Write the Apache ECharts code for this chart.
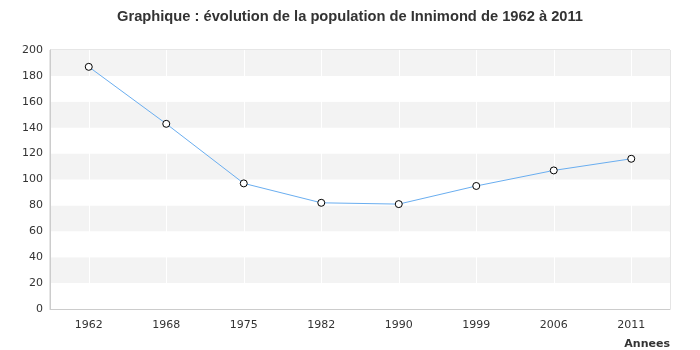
<!DOCTYPE html>
<html><head><meta charset="utf-8">
<script src="https://cdn.jsdelivr.net/npm/echarts@6/dist/echarts.min.js"></script>
<style>html,body{margin:0;padding:0;background:#fff}#c{width:700px;height:350px}</style>
</head><body><div id="c"></div>
<script>
const years = ['1962','1968','1975','1982','1990','1999','2006','2011'];
const population = [187,143,97,82,81,95,107,116];
const yTicks = {min:0, max:200, interval:20};
const chart = echarts.init(document.getElementById('c'));
chart.setOption({
  animation:false,
  title:{text:'Graphique : évolution de la population de Innimond de 1962 à 2011',left:'center',top:4,
    textStyle:{fontFamily:'Liberation Sans',fontSize:14.7,fontWeight:'bold',color:'#333'}},
  grid:{left:50,right:30,top:50,bottom:40,show:true,borderColor:'#ccc',borderWidth:1,backgroundColor:'transparent'},
  xAxis:{type:'category',data:years,boundaryGap:true,name:'Annees',nameLocation:'end',
    nameGap:0,
    nameTextStyle:{fontFamily:'DejaVu Sans',fontSize:11,fontWeight:'bold',color:'#333',align:'right',verticalAlign:'top',padding:[30,0,0,0]},
    axisLine:{show:true,lineStyle:{color:'#ccc'}},axisTick:{show:false},
    axisLabel:{fontFamily:'DejaVu Sans',fontSize:11,color:'#333',margin:11},
    splitLine:{show:true,alignWithLabel:true,lineStyle:{color:'#fff',width:1}}},
  yAxis:{type:'value',min:yTicks.min,max:yTicks.max,interval:yTicks.interval,
    axisLine:{show:true,lineStyle:{color:'#ccc'}},axisTick:{show:false},
    axisLabel:{fontFamily:'DejaVu Sans',fontSize:11,color:'#333',margin:7},
    splitLine:{show:false},
    splitArea:{show:true,areaStyle:{color:['#ffffff','#f3f3f3']}}},
  series:[{type:'line',data:population,symbol:'circle',symbolSize:7,
    lineStyle:{color:'#6aaef0',width:1},
    itemStyle:{color:'#fff',borderColor:'#000',borderWidth:1},z:5}]
});
</script></body></html>
